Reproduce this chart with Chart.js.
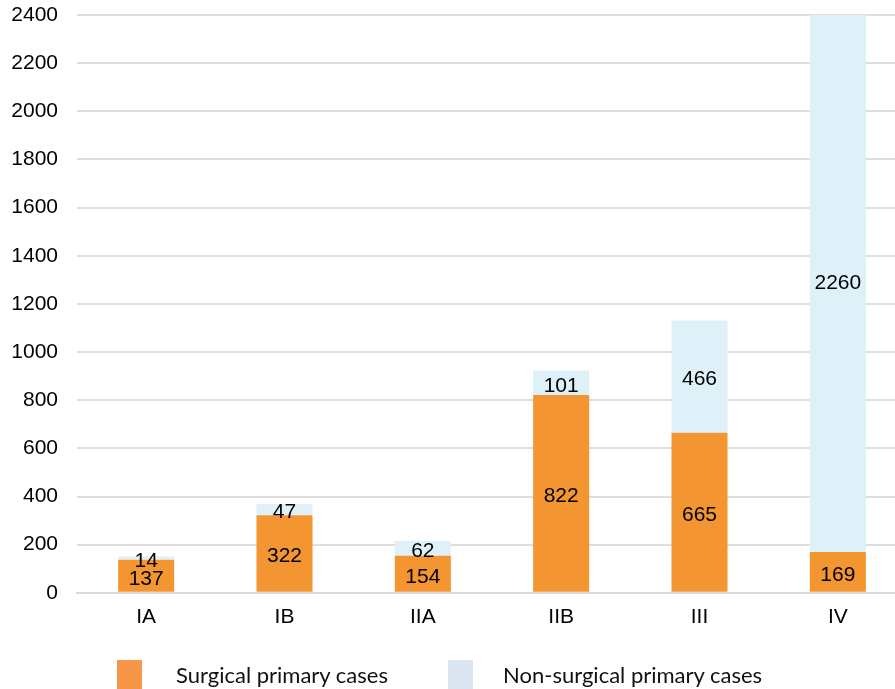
<!DOCTYPE html>
<html lang="en">
<head>
  <meta charset="UTF-8">
  <title>Stage distribution</title>
  <script src="https://cdn.jsdelivr.net/npm/chart.js"></script>
  <style>
    body { margin: 0; overflow: hidden; background: #fff; }
    #wrap { position: relative; width: 907px; height: 689px; }
    .legend { position: absolute; top: 660px; left: 0; font-family: Lato, "Open Sans", sans-serif; font-size: 22px; color: #111; }
    .legend span.box { position: absolute; top: 0; width: 25px; height: 29px; }
    .legend span.txt { position: absolute; top: 1px; white-space: nowrap; }
  </style>
</head>
<body>
  <div id="wrap">
    <canvas id="chart" width="907" height="689"></canvas>
    <div class="legend">
      <span class="box" style="left:117px; background:#F79646"></span>
      <span class="txt" style="left:176px">Surgical primary cases</span>
      <span class="box" style="left:448px; background:#DCE6F2"></span>
      <span class="txt" style="left:503px">Non-surgical primary cases</span>
    </div>
  </div>
  <script>
    const stages = ['IA', 'IB', 'IIA', 'IIB', 'III', 'IV'];
    const surgical = [137, 322, 154, 822, 665, 169];
    const nonSurgical = [14, 47, 62, 101, 466, 2260];

    // 棒の中央に値を描く
    const barLabels = {
      id: 'barLabels',
      afterDatasetsDraw(chart) {
        const ctx = chart.ctx;
        ctx.save();
        ctx.font = '21px "Liberation Sans", Arial, sans-serif';
        ctx.fillStyle = '#000';
        ctx.textAlign = 'center';
        ctx.textBaseline = 'middle';
        chart.data.datasets.forEach((ds, i) => {
          chart.getDatasetMeta(i).data.forEach((bar, j) => {
            ctx.fillText(ds.data[j], bar.x, (bar.y + bar.base) / 2 + 3);
          });
        });
        ctx.restore();
      }
    };

    const chart = new Chart(document.getElementById('chart'), {
      type: 'bar',
      data: {
        labels: stages,
        datasets: [
          { label: 'Surgical primary cases', data: surgical, backgroundColor: '#F39530' },
          { label: 'Non-surgical primary cases', data: nonSurgical, backgroundColor: '#DEF1F9' }
        ]
      },
      options: {
        responsive: false,
        animation: false,
        layout: { padding: { left: 12, top: 15, right: 0, bottom: 47 } },
        datasets: { bar: { barPercentage: 1, categoryPercentage: 0.405 } },
        plugins: { legend: { display: false }, tooltip: { enabled: false } },
        scales: {
          x: {
            stacked: true,
            grid: { display: false, drawTicks: false },
            border: { color: '#d9d9d9', width: 2 },
            ticks: { padding: 12, color: '#000', font: { family: 'Liberation Sans', size: 21 } }
          },
          y: {
            stacked: true,
            min: 0,
            max: 2400,
            afterFit: s => { s.width = 65; },
            ticks: {
              stepSize: 200, padding: 0, color: '#000',
              font: { family: 'Liberation Sans', size: 21 },
              callback: v => String(v)
            },
            grid: { color: '#dedede', lineWidth: 2, drawTicks: true, tickLength: 19, tickColor: 'rgba(0,0,0,0)' },
            border: { display: false }
          }
        }
      },
      plugins: [barLabels]
    });
  </script>
</body>
</html>
